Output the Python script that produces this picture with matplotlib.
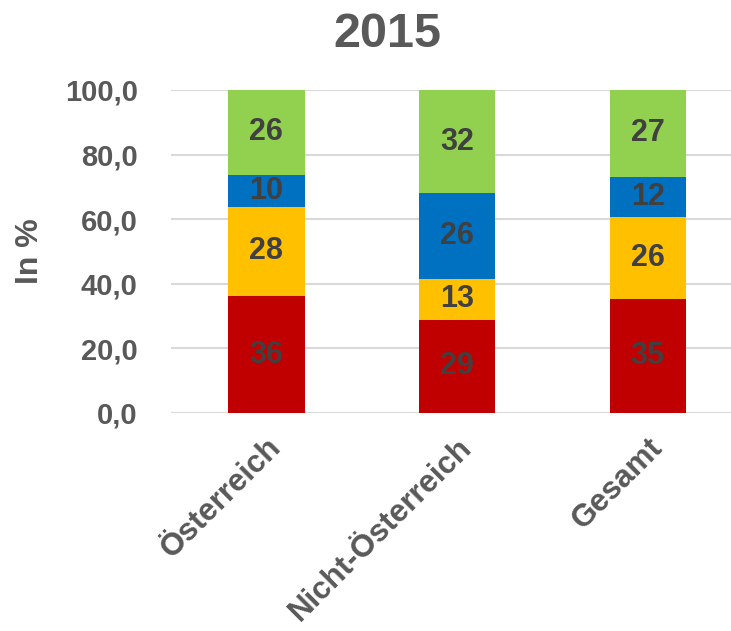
import matplotlib.pyplot as plt
import numpy as np

plt.rcParams['font.family'] = ['Liberation Sans', 'DejaVu Sans']
plt.rcParams['font.weight'] = 'bold'

# Daten (Anteile in %)
kategorien = ['Österreich', 'Nicht-Österreich', 'Gesamt']
rot = [36.1, 28.9, 35.2]
gelb = [27.8, 12.7, 25.6]
blau = [9.9, 26.4, 12.3]
gruen = [26.2, 32.0, 26.9]
yticks = [0, 20, 40, 60, 80, 100]

farben = ['#C00000', '#FFC000', '#0070C0', '#92D050']
grau = '#595959'
text_dunkel = '#404040'

fig = plt.figure(figsize=(7.31, 6.31), dpi=100)
ax = fig.add_axes([0.234, 0.3455, 0.766, 0.512])

x = np.arange(len(kategorien))
unten = np.zeros(len(kategorien))
for serie, farbe in zip([rot, gelb, blau, gruen], farben):
    bars = ax.bar(x, serie, width=0.4, bottom=unten, color=farbe, zorder=3)
    for b, v in zip(bars, serie):
        ax.text(b.get_x() + b.get_width() / 2, b.get_y() + v / 2, '%.0f' % v,
                ha='center', va='center', fontsize=22, fontweight='bold',
                color=text_dunkel, zorder=4)
    unten += np.array(serie)

ax.set_xlim(-0.5, 2.437)
ax.set_ylim(0, 100)
ax.set_yticks(yticks)
ax.set_yticklabels([('%.1f' % t).replace('.', ',') for t in yticks])
ax.set_xticks(x)
ax.set_xticklabels(kategorien, rotation=45, ha='right', rotation_mode='anchor',
                   fontsize=22.5)
ax.tick_params(axis='both', length=0, labelcolor=grau)
ax.tick_params(axis='y', pad=24, labelsize=21)
ax.tick_params(axis='x', pad=14)
ax.grid(axis='y', color='#D9D9D9', linewidth=1.5, zorder=0)
for s in ax.spines.values():
    s.set_visible(False)

ax.set_ylabel('In %', fontsize=23, fontweight='bold', color=grau, labelpad=14)
fig.text(0.53, 0.945, '2015', ha='center', va='center', fontsize=35,
         fontweight='bold', color=grau)

fig.savefig('out.png', dpi=100)
